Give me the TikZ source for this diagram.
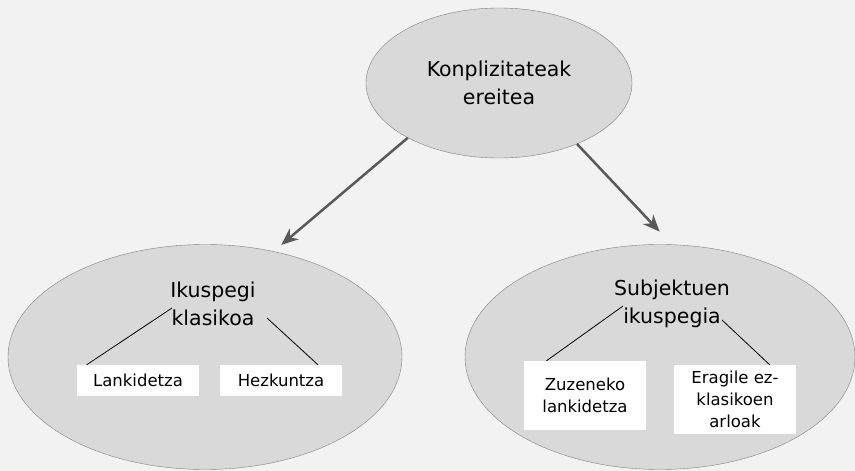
\documentclass[tikz,border=0pt]{standalone}
\usepackage{fontspec}
\setmainfont{DejaVu Sans}
\usetikzlibrary{shapes.geometric}
\usetikzlibrary{arrows.meta}
\definecolor{bggray}{HTML}{F2F2F2}
\definecolor{blobfill}{HTML}{D9D9D9}
\definecolor{blobline}{HTML}{808080}
\definecolor{arrowgray}{HTML}{595959}

\begin{document}
\begin{tikzpicture}[x=1pt,y=-1pt,
		blob/.style={ellipse,draw=blobline,fill=blobfill,inner sep=0pt},
		title/.style={align=center,inner sep=0pt,font=\fontsize{20.5}{28}\selectfont},
		leaf/.style={fill=white,align=center,inner sep=0pt,minimum width=122pt,font=\fontsize{16.5}{21.7}\selectfont},
		bigarrow/.style={draw=arrowgray,line width=2.5pt,-{Stealth[length=17pt,width=14pt]}},
		twig/.style={draw=black,line width=0.8pt}]
			\fill[bggray] (0,0) rectangle (855,471);
			\useasboundingbox (0,0) rectangle (855,471);
			
			% top
			
			\node[blob,title,minimum width=266pt,minimum height=150pt] (top) at (499,83) {Konplizitateak\\ereitea};
			
			% two views
			
			\node[blob,minimum width=394pt,minimum height=225pt] (left) at (205,357) {};
			\node[blob,minimum width=390pt,minimum height=225pt] (right) at (660,357) {};
			\draw[bigarrow,shorten >=10pt] (top.211) -- (left.57);
			\draw[bigarrow,shorten >=17.7pt] (top.322) -- (right.84);
			
			\node[title] (klas) at (213,304) {Ikuspegi\\klasikoa};
			\node[title] (subj) at (672,304) {Subjektuen\\ikuspegia};
			
			% leaves
			
			\node[leaf,minimum height=31pt] (lank) at (138,380.5) {Lankidetza};
			\node[leaf,minimum height=31pt] (hezk) at (281,380.5) {Hezkuntza};
			\node[leaf,minimum height=69pt] (zuze) at (585,395.5) {Zuzeneko\\lankidetza};
			\node[leaf,minimum height=69pt] (erag) at (735,399.5) {Eragile ez-\\klasikoen\\arloak};
			\draw[twig] ([shift={(-41,4)}]klas.center) -- (lank.163);
			\draw[twig] ([shift={(54,14)}]klas.center) -- (hezk.23);
			\draw[twig] ([shift={(-49,2)}]subj.center) -- (zuze.138);
			\draw[twig] ([shift={(50,16)}]subj.center) -- (erag.45);
		\end{tikzpicture}
\end{document}
